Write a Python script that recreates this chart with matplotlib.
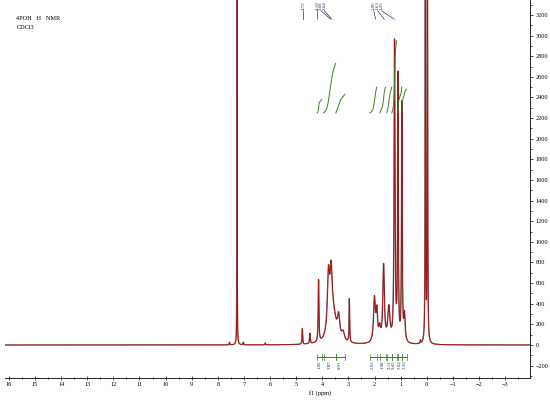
import numpy as np
import matplotlib.pyplot as plt

plt.rcParams['font.family'] = ['Liberation Serif', 'DejaVu Serif']

# peaks: shift (ppm), height, half width (ppm)
peak_ppm = [7.55, 7.26, 7.02, 6.18, 4.76, 4.47, 4.14, 3.76, 3.66, 3.58, 3.37, 3.20, 2.96,
            2.00, 1.91, 1.80, 1.65, 1.45, 1.23, 1.10, 0.95, 0.85, 0.24, 0.05, -0.03]
peak_height = [25, 4000, 25, 18, 150, 100, 600, 560, 500, 260, 200, 80, 420,
               420, 280, 120, 740, 330, 2900, 2550, 2300, 260, 30, 4500, 4500]
peak_width = [0.01, 0.005, 0.01, 0.01, 0.012, 0.015, 0.015, 0.05, 0.05, 0.15, 0.05, 0.06, 0.012,
              0.04, 0.035, 0.04, 0.035, 0.05, 0.02, 0.015, 0.015, 0.03, 0.01, 0.009, 0.009]

# integration regions (ppm) and the labels printed under them
integ_from = [4.20, 3.95, 3.48, 2.18, 1.80, 1.53, 1.34, 1.10, 0.95]
integ_to = [4.02, 3.49, 3.14, 1.92, 1.58, 1.34, 1.15, 0.96, 0.77]
integ_rise = [130, 480, 180, 250, 250, 250, 700, 250, 230]
integ_labels = ['1.00', '3.87', '0.91', '2.03', '1.98', '2.11', '9.45', '3.02', '3.10']

# peak picking labels at the top
pick_values = [4.72, 4.19, 3.68, 3.64, 1.96, 1.63, 1.25]
pick_text_ppm = [4.72, 4.18, 4.05, 3.92, 2.03, 1.88, 1.73]


def spectrum(x, shift=0.0):
    y = np.zeros_like(x)
    for c, h, w in zip(peak_ppm, peak_height, peak_width):
        y += h * w ** 2 / ((x - c - shift) ** 2 + w ** 2)
    return y


ppm = np.linspace(16.15, -3.96, 24000)
intensity = spectrum(ppm)
intensity_gray = spectrum(ppm, shift=0.012)

fig = plt.figure(figsize=(5.5, 4), dpi=100)
ax = fig.add_axes([0.009, 0.055, 0.955, 0.945])

ax.plot(ppm, intensity_gray, color='#8c8c8c', lw=0.8)
ax.plot(ppm, intensity, color='#9b1c1c', lw=0.8)

# integral curves
base = 2250
for a, b, rise in zip(integ_from, integ_to, integ_rise):
    m = (ppm <= a) & (ppm >= b)
    cum = np.cumsum(intensity[m])
    cum = cum / cum[-1]
    ax.plot(ppm[m], base + rise * cum, color='#3d7f2a', lw=0.7)

# integration bars and values below the baseline
bar_y = -117
for lo, hi in [(0, 3), (3, 9)]:
    ax.plot([integ_from[lo], integ_to[hi - 1]], [bar_y, bar_y], color='#3d7f2a', lw=0.7)
    for i in range(lo, hi):
        for edge in (integ_from[i], integ_to[i]):
            ax.plot([edge, edge], [bar_y - 25, bar_y + 25], color='#3d7f2a', lw=0.5)
        ax.text((integ_from[i] + integ_to[i]) / 2, bar_y - 35, integ_labels[i], rotation=90,
                ha='center', va='top', fontsize=3.5, color='#2a2a7a')

# peak labels
for val, tx in zip(pick_values, pick_text_ppm):
    ax.text(tx, 3330, f'{val:.2f}', rotation=90, ha='center', va='top', fontsize=3.5, color='#2a2a7a')
    ax.plot([tx, val], [3240, 3160], color='#2a2a7a', lw=0.5)

ax.set_xlim(16.15, -3.96)
ax.set_ylim(-320, 3345)

ax.spines['top'].set_visible(False)
ax.spines['left'].set_visible(False)
ax.yaxis.tick_right()
ax.set_yticks(np.arange(-200, 3201, 200))
ax.set_yticks(np.arange(-300, 3301, 100), minor=True)
ax.set_xticks(np.arange(-3, 17, 1))
ax.set_xticks(np.arange(-3.5, 16.1, 0.5), minor=True)
ax.tick_params(axis='both', which='major', labelsize=4.5, length=2.5, width=0.5, pad=1.5)
ax.tick_params(axis='both', which='minor', length=1.5, width=0.5)
ax.tick_params(axis='x', which='both', direction='inout')
for s in ax.spines.values():
    s.set_linewidth(0.6)

ax.text(320 / 550, 0.018, 'f1 (ppm)', transform=fig.transFigure, ha='center', va='center', fontsize=4.5)
ax.text(0.03, 0.955, '4POH   H   NMR', transform=fig.transFigure, fontsize=4.5, va='center')
ax.text(0.03, 0.932, 'CDCl3', transform=fig.transFigure, fontsize=4.5, va='center')

plt.savefig('out.png', dpi=100)
